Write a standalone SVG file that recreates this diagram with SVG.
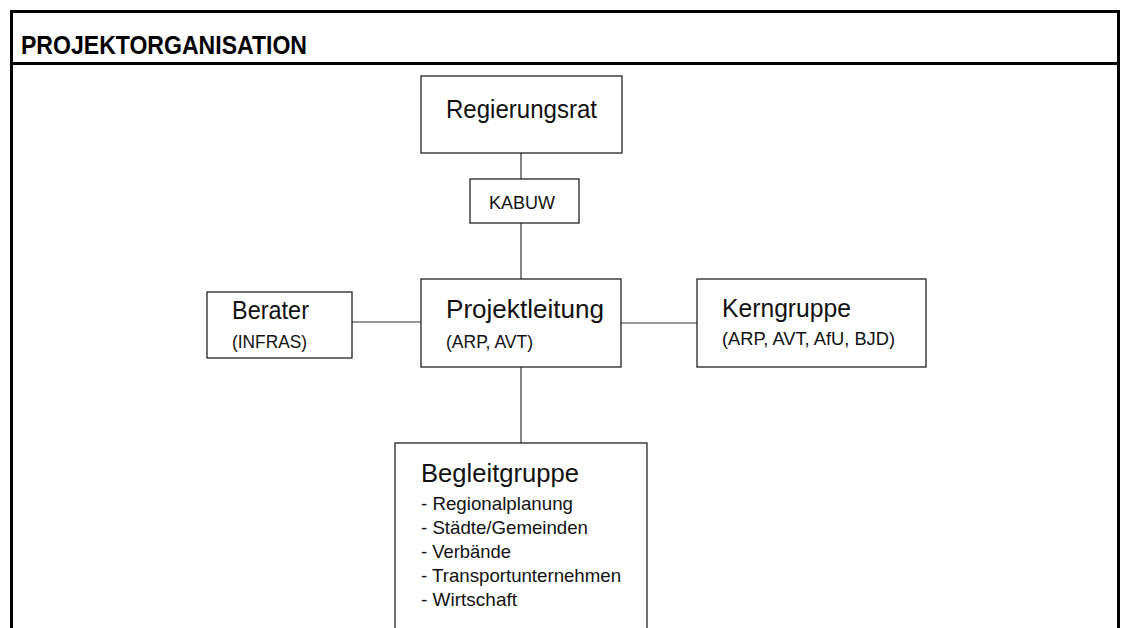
<svg xmlns="http://www.w3.org/2000/svg" width="1121" height="628" viewBox="0 0 1121 628">
<style>
.frame{fill:none;stroke:#000;stroke-width:3}
.box{fill:#fff;stroke:#222;stroke-width:1.3}
.conn{stroke:#333;stroke-width:1.2;fill:none}
.t{font-family:"Liberation Sans",Arial,sans-serif;fill:#111}
.big{font-size:25.5px}
.small{font-size:18.5px}
.hdr{font-family:"Liberation Sans",Arial,sans-serif;font-weight:bold;font-size:25.5px;fill:#000}
</style>
<rect width="1121" height="628" fill="#fff"/>
<g id="frame">
<path class="frame" d="M11.5,640 V11.5 H1118.5 V640"/>
<line class="frame" x1="11" y1="63.5" x2="1119" y2="63.5"/>
<text class="hdr" x="21" y="54" textLength="286" lengthAdjust="spacingAndGlyphs">PROJEKTORGANISATION</text>
</g>
<g id="connectors">
<line class="conn" x1="521" y1="153" x2="521" y2="179"/>
<line class="conn" x1="521" y1="223" x2="521" y2="279"/>
<line class="conn" x1="352" y1="322" x2="421" y2="322"/>
<line class="conn" x1="621" y1="323" x2="697" y2="323"/>
<line class="conn" x1="521" y1="367" x2="521" y2="443"/>
</g>
<g id="regierungsrat">
<rect class="box" x="421" y="76" width="201" height="77"/>
<text class="t big" x="446" y="118" textLength="151" lengthAdjust="spacingAndGlyphs">Regierungsrat</text>
</g>
<g id="kabuw">
<rect class="box" x="470" y="179" width="109" height="44"/>
<text class="t" font-size="18" x="489" y="209" textLength="66" lengthAdjust="spacingAndGlyphs">KABUW</text>
</g>
<g id="berater">
<rect class="box" x="207" y="292" width="145" height="66"/>
<text class="t big" x="232" y="319" textLength="77" lengthAdjust="spacingAndGlyphs">Berater</text>
<text class="t small" x="232" y="348" textLength="75" lengthAdjust="spacingAndGlyphs">(INFRAS)</text>
</g>
<g id="projektleitung">
<rect class="box" x="421" y="279" width="200" height="88"/>
<text class="t big" x="446" y="318" textLength="158" lengthAdjust="spacingAndGlyphs">Projektleitung</text>
<text class="t small" x="446" y="348" textLength="87" lengthAdjust="spacingAndGlyphs">(ARP, AVT)</text>
</g>
<g id="kerngruppe">
<rect class="box" x="697" y="279" width="229" height="88"/>
<text class="t big" x="722" y="317" textLength="129" lengthAdjust="spacingAndGlyphs">Kerngruppe</text>
<text class="t small" x="722" y="345" textLength="173" lengthAdjust="spacingAndGlyphs">(ARP, AVT, AfU, BJD)</text>
</g>
<g id="begleitgruppe">
<rect class="box" x="395" y="443" width="252" height="200"/>
<text class="t big" x="421" y="482" textLength="158" lengthAdjust="spacingAndGlyphs">Begleitgruppe</text>
<text class="t small" x="421" y="510" textLength="152" lengthAdjust="spacingAndGlyphs">- Regionalplanung</text>
<text class="t small" x="421" y="534" textLength="167" lengthAdjust="spacingAndGlyphs">- Städte/Gemeinden</text>
<text class="t small" x="421" y="558" textLength="90" lengthAdjust="spacingAndGlyphs">- Verbände</text>
<text class="t small" x="421" y="582" textLength="200" lengthAdjust="spacingAndGlyphs">- Transportunternehmen</text>
<text class="t small" x="421" y="606" textLength="96" lengthAdjust="spacingAndGlyphs">- Wirtschaft</text>
</g>
</svg>
